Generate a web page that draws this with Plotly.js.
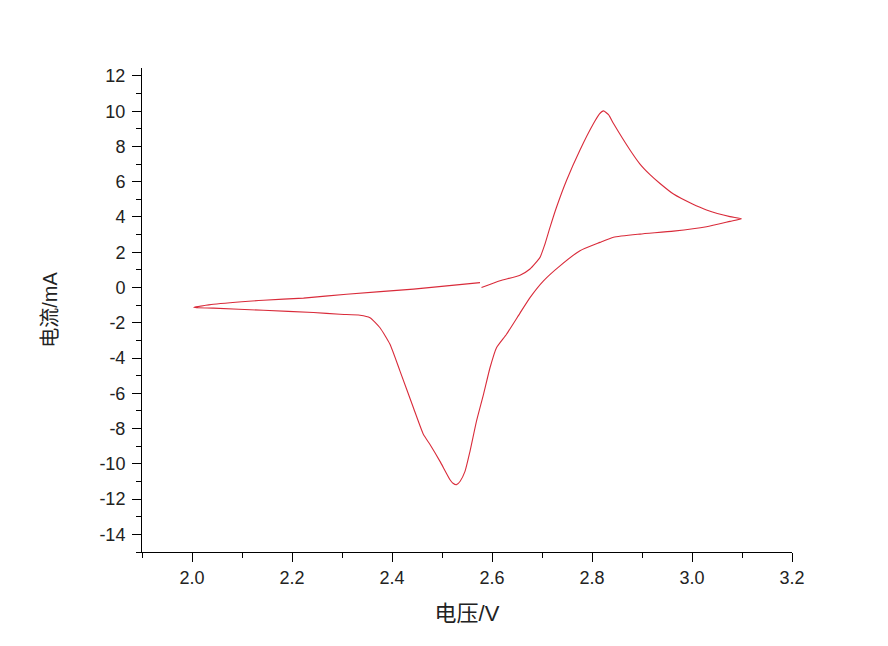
<!DOCTYPE html>
<html>
<head>
<meta charset="utf-8">
<script src="https://cdn.plot.ly/plotly-3.0.1.min.js"></script>
<style>html,body{margin:0;padding:0;background:#fff;}#chart{width:888px;height:646px;}</style>
</head>
<body>
<div id="chart"></div>
<script>
// Voltage (V) and current (mA) along the cyclic voltammetry scan
const voltage = [
  2.579, 2.616, 2.656, 2.676, 2.696, 2.706, 2.716, 2.729, 2.749, 2.776, 2.803, 2.815, 2.823, 2.833, 2.843, 2.876, 2.896, 2.916, 2.936, 2.963, 3.0, 3.029, 3.076, 3.099,
  3.076, 3.029, 2.963, 2.896, 2.843, 2.816, 2.776, 2.736, 2.703, 2.676, 2.656, 2.629, 2.609, 2.596, 2.583, 2.569, 2.556, 2.546, 2.536, 2.529, 2.522, 2.516, 2.496, 2.476, 2.463, 2.443, 2.416, 2.396, 2.376, 2.356, 2.336, 2.296, 2.243, 2.143, 2.043, 2.003,
  2.043, 2.143, 2.223, 2.309, 2.443, 2.576
];
const current = [
  0.0, 0.38, 0.7, 1.05, 1.71, 2.47, 3.41, 4.55, 6.07, 7.8, 9.3, 9.85, 10.02, 9.8, 9.3, 7.8, 7.0, 6.4, 5.9, 5.3, 4.75, 4.4, 4.02, 3.9,
  3.75, 3.45, 3.2, 3.03, 2.85, 2.56, 2.09, 1.23, 0.38, -0.57, -1.45, -2.65, -3.41, -4.55, -6.06, -7.58, -9.29, -10.43, -11.0, -11.18, -11.1, -10.9, -9.86, -8.9, -8.34, -6.83, -4.74, -3.22, -2.28, -1.71, -1.57, -1.52, -1.42, -1.29, -1.17, -1.13,
  -0.95, -0.72, -0.6, -0.38, -0.09, 0.28
];
const xTickVals = [2.0, 2.2, 2.4, 2.6, 2.8, 3.0, 3.2];
const xTickText = ["2.0", "2.2", "2.4", "2.6", "2.8", "3.0", "3.2"];
const yTickVals = [12, 10, 8, 6, 4, 2, 0, -2, -4, -6, -8, -10, -12, -14];
const yTickText = ["12", "10", "8", "6", "4", "2", "0", "-2", "-4", "-6", "-8", "-10", "-12", "-14"];

const tickFont = {family: "Liberation Sans, Arial, sans-serif", size: 18, color: "#222"};
const xTitleFont = {family: "Liberation Sans, Noto Sans CJK SC, sans-serif", size: 22, color: "#222"};
const yTitleFont = {family: "Liberation Sans, Noto Sans CJK SC, sans-serif", size: 20, color: "#222"};

const trace = {
  x: voltage, y: current, type: "scatter", mode: "lines",
  line: {color: "#d92b3a", width: 1.1, shape: "spline", smoothing: 0.5},
  hoverinfo: "skip", showlegend: false
};

const layout = {
  width: 888, height: 646,
  margin: {l: 142, r: 96, t: 68, b: 94},
  paper_bgcolor: "#fff", plot_bgcolor: "#fff",
  xaxis: {
    range: [1.9, 3.2], tickvals: xTickVals, ticktext: xTickText,
    showline: true, linecolor: "#000", linewidth: 1, mirror: false,
    ticks: "outside", ticklen: 9, tickwidth: 1, tickcolor: "#000",
    minor: {ticks: "outside", ticklen: 5, tickwidth: 1, tickcolor: "#000", dtick: 0.1, tick0: 1.9},
    showgrid: false, zeroline: false, tickfont: tickFont,
    title: {text: "电压/V", font: xTitleFont, standoff: 19}
  },
  yaxis: {
    range: [-15, 12.45], tickvals: yTickVals, ticktext: yTickText,
    showline: true, linecolor: "#000", linewidth: 1, mirror: false,
    ticks: "outside", ticklen: 9, tickwidth: 1, tickcolor: "#000",
    minor: {ticks: "outside", ticklen: 5, tickwidth: 1, tickcolor: "#000", dtick: 1, tick0: 0},
    showgrid: false, zeroline: false, tickfont: tickFont, ticklabelstandoff: 3,
    title: {text: "电流/mA", font: yTitleFont, standoff: 36}
  }
};

Plotly.newPlot("chart", [trace], layout, {displayModeBar: false, staticPlot: true});
</script>
</body>
</html>
